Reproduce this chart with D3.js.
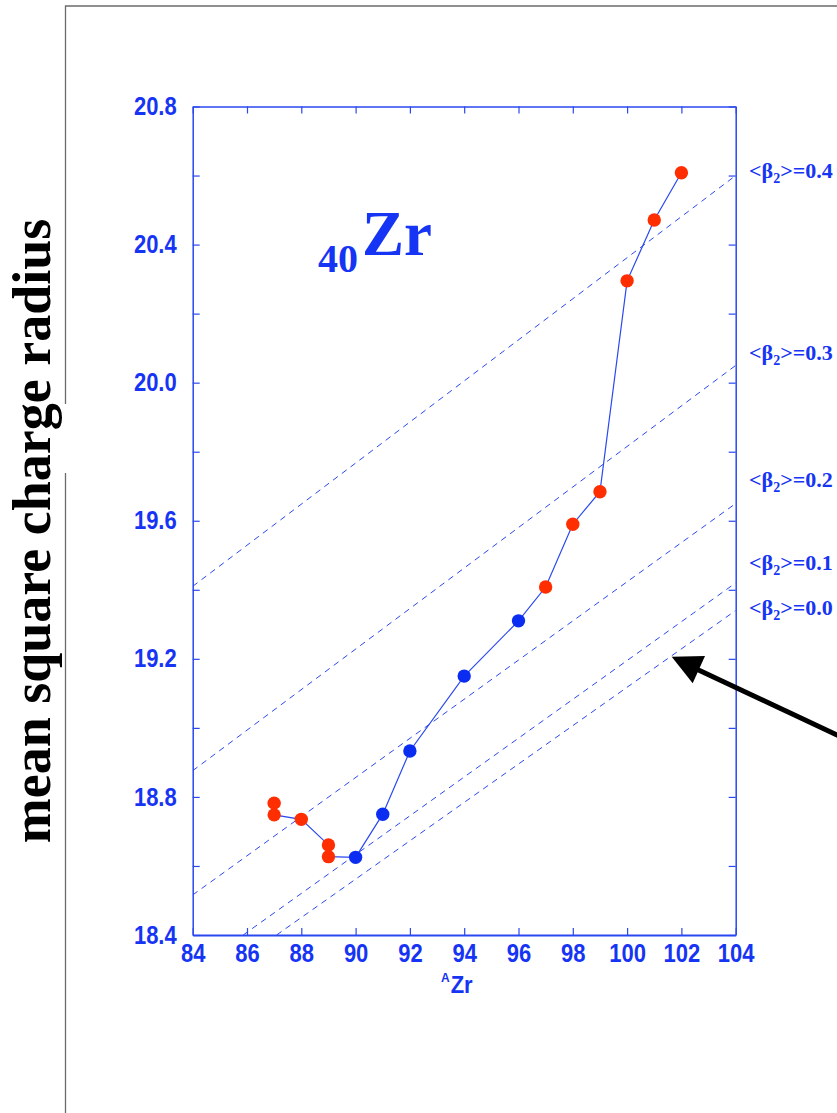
<!DOCTYPE html>
<html>
<head>
<meta charset="utf-8">
<script src="https://cdn.jsdelivr.net/npm/d3@7"></script>
<style>
  body { margin: 0; background: #fff; }
  svg { display: block; }
</style>
</head>
<body>
<div id="chart"></div>
<script>
// data
var massNumbers = [87, 87, 88, 89, 89, 90, 91, 92, 94, 96, 97, 98, 99, 100, 101, 102];
var radiusValues = [18.782, 18.748, 18.735, 18.661, 18.627, 18.625, 18.750, 18.933, 19.150, 19.310, 19.408, 19.590, 19.684, 20.295, 20.471, 20.608];
var pointKind = ["r", "r", "r", "r", "r", "b", "b", "b", "b", "b", "r", "r", "r", "r", "r", "r"];

var betaNames = ["0.4", "0.3", "0.2", "0.1", "0.0"];
// each line given by two (A, r2) points
var betaStart = [[84, 19.41], [84, 18.876], [84, 18.516], [85.86, 18.4], [87.09, 18.4]];
var betaEnd = [[104, 20.60], [104, 20.05], [104, 19.65], [104, 19.42], [104, 19.34]];
var betaLabelAt = [20.593, 20.066, 19.698, 19.457, 19.327];

var xTicks = [84, 86, 88, 90, 92, 94, 96, 98, 100, 102, 104];
var yTicks = [18.4, 18.6, 18.8, 19.0, 19.2, 19.4, 19.6, 19.8, 20.0, 20.2, 20.4, 20.6, 20.8];
var yLabelled = [18.4, 18.8, 19.2, 19.6, 20.0, 20.4, 20.8];

var w = 837;
var h = 1113;
var blue = "#1634f4";
var lineBlue = "#2a48f0";
var red = "#ff2e00";

var svg = d3.select("#chart")
    .append("svg")
    .attr("width", w)
    .attr("height", h);

svg.append("rect").attr("width", w).attr("height", h).attr("fill", "#fff");

var xScale = d3.scaleLinear().domain([84, 104]).range([192.7, 735.7]);
var yScale = d3.scaleLinear().domain([18.4, 20.8]).range([935, 106.5]);

// outer page frame (broken behind the y title)
svg.append("path")
    .attr("d", "M65.5,1113 V473 M65.5,404 V6 H837")
    .attr("fill", "none")
    .attr("stroke", "#6b6b6b")
    .attr("stroke-width", 1.3);

// clip for the dashed lines
svg.append("clipPath").attr("id", "plotclip")
    .append("rect")
    .attr("x", xScale(84)).attr("y", yScale(20.8))
    .attr("width", xScale(104) - xScale(84))
    .attr("height", yScale(18.4) - yScale(20.8));

//Axes
var tickFont = "'Liberation Sans', Arial, sans-serif";

var yAxis = d3.axisLeft(yScale)
    .tickValues(yTicks)
    .tickSizeInner(-7)
    .tickSizeOuter(0)
    .tickPadding(16)
    .tickFormat(function (d) {
        return yLabelled.some(function (v) { return Math.abs(v - d) < 1e-6; }) ? d.toFixed(1) : "";
    });

var yAxisR = d3.axisRight(yScale).tickValues(yTicks).tickSizeInner(-7).tickSizeOuter(0).tickFormat("");
var xAxis = d3.axisBottom(xScale).tickValues(xTicks).tickSizeInner(-7).tickSizeOuter(0).tickPadding(7.6);
var xAxisT = d3.axisTop(xScale).tickValues(xTicks).tickSizeInner(-7).tickSizeOuter(0).tickFormat("");

function styleAxis(g, width) {
    g.select(".domain").attr("stroke", lineBlue).attr("stroke-width", width);
    g.selectAll(".tick line").attr("stroke", lineBlue).attr("stroke-width", 1.2);
    g.selectAll(".tick text")
        .attr("fill", blue)
        .attr("transform", "scale(1,1.15)")   // the original glyphs are a bit taller
        .style("font-family", tickFont)
        .style("font-weight", "bold")
        .style("font-size", "22px");
}

svg.append("g").attr("transform", "translate(" + xScale(84) + ",0)").call(yAxis).call(styleAxis, 1.5);
svg.append("g").attr("transform", "translate(" + xScale(104) + ",0)").call(yAxisR).call(styleAxis, 1.5);
svg.append("g").attr("transform", "translate(0," + yScale(18.4) + ")").call(xAxis).call(styleAxis, 2.2);
svg.append("g").attr("transform", "translate(0," + yScale(20.8) + ")").call(xAxisT).call(styleAxis, 1.5);

// x axis title  ^AZr
var xt = svg.append("text")
    .attr("transform", "translate(441,993) scale(1,1.1)")
    .attr("fill", blue)
    .style("font-family", tickFont)
    .style("font-weight", "bold");
xt.append("tspan").attr("font-size", "12px").attr("dy", -10).text("A");
xt.append("tspan").attr("font-size", "22px").attr("dx", 1).attr("dy", 10).text("Zr");

// y axis title
svg.append("text")
    .attr("transform", "translate(50,531) rotate(-90)")
    .attr("text-anchor", "middle")
    .style("font-family", "'Liberation Serif', 'Times New Roman', serif")
    .style("font-weight", "bold")
    .style("font-size", "54px")
    .attr("fill", "#000")
    .text("mean square charge radius");

// element label 40Zr
var serif = "'Liberation Serif', 'Times New Roman', serif";
svg.append("text")
    .attr("x", 318).attr("y", 272)
    .style("font-family", serif).style("font-weight", "bold").style("font-size", "40px")
    .attr("fill", blue)
    .text("40");
svg.append("text")
    .attr("x", 362).attr("y", 255)
    .style("font-family", serif).style("font-weight", "bold").style("font-size", "63px")
    .attr("fill", blue)
    .text("Zr");

// dashed deformation lines
var betaIdx = d3.range(betaNames.length);
svg.append("g")
    .attr("clip-path", "url(#plotclip)")
    .selectAll("line")
    .data(betaIdx)
    .enter()
    .append("line")
    .attr("x1", function (i) { return xScale(betaStart[i][0]); })
    .attr("y1", function (i) { return yScale(betaStart[i][1]); })
    .attr("x2", function (i) { return xScale(betaEnd[i][0]); })
    .attr("y2", function (i) { return yScale(betaEnd[i][1]); })
    .attr("stroke", lineBlue)
    .attr("stroke-width", 1)
    .attr("stroke-dasharray", "6,5");

var labels = svg.selectAll(".blabel")
    .data(betaIdx)
    .enter()
    .append("text")
    .attr("class", "blabel")
    .attr("x", 749)
    .attr("y", function (i) { return yScale(betaLabelAt[i]); })
    .attr("fill", blue)
    .style("font-family", serif)
    .style("font-weight", "bold")
    .style("font-size", "22px");
labels.append("tspan").text("<β");
labels.append("tspan").attr("font-size", "14px").attr("dy", 5).text("2");
labels.append("tspan").attr("dy", -5).text(function (i) { return ">=" + betaNames[i]; });

// data line + points
var pts = d3.range(massNumbers.length);
var lineGen = d3.line()
    .x(function (i) { return xScale(massNumbers[i]); })
    .y(function (i) { return yScale(radiusValues[i]); });

svg.append("path")
    .datum(pts)
    .attr("d", lineGen)
    .attr("fill", "none")
    .attr("stroke", lineBlue)
    .attr("stroke-width", 1.2);

svg.selectAll("circle")
    .data(pts)
    .enter()
    .append("circle")
    .attr("cx", function (i) { return xScale(massNumbers[i]); })
    .attr("cy", function (i) { return yScale(radiusValues[i]); })
    .attr("r", 6.7)
    .attr("fill", function (i) { return pointKind[i] == "r" ? red : "#0b2df2"; });

// black arrow
svg.append("line")
    .attr("x1", 840).attr("y1", 736.4)
    .attr("x2", 690).attr("y2", 666)
    .attr("stroke", "#000")
    .attr("stroke-width", 5);
svg.append("path")
    .attr("d", "M671.7,656.7 L705,656 L692.7,683.3 Z")
    .attr("fill", "#000");
</script>
</body>
</html>
